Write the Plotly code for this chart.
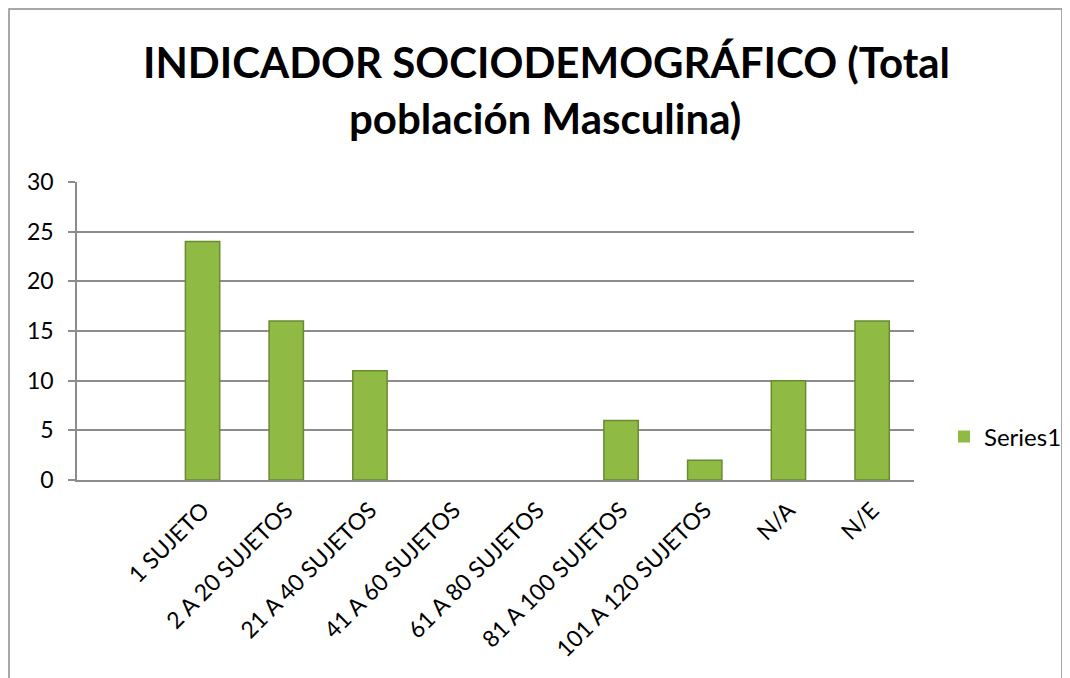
import plotly.graph_objects as go

categories = ["", "1 SUJETO", "2 A 20 SUJETOS", "21 A 40 SUJETOS", "41 A 60 SUJETOS",
              "61 A 80 SUJETOS", "81 A 100 SUJETOS", "101 A 120 SUJETOS", "N/A", "N/E"]
values = [0, 24, 16, 11, 0, 0, 6, 2, 10, 16]
series_name = "Series1"
title_lines = ["INDICADOR SOCIODEMOGRÁFICO (Total", "población Masculina)"]
y_ticks = [0, 5, 10, 15, 20, 25, 30]

# page has an 8px body margin; work in figure coordinates = page - 8
OFF = 8
W, H = 1062, 670
L, R, T, B = 77 - OFF, 1062 - (914 - OFF), 182 - OFF, 670 - (480 - OFF)
pw, ph = W - L - R, H - T - B

def px_x(x):  # page x -> paper
    return (x - OFF - L) / pw

def px_y(y):  # page y -> paper
    return (H - B - (y - OFF)) / ph

fig = go.Figure()
fig.add_trace(go.Bar(
    x=list(range(len(categories))), y=values, name=series_name,
    width=0.41,
    marker=dict(color="#8fbb45",
                line=dict(color="#6a8a30", width=[0 if v == 0 else 1.5 for v in values])),
    showlegend=True,
))

annotations = [
    dict(text=title_lines[0], x=px_x(546), y=px_y(62), xref="paper", yref="paper",
         xanchor="center", yanchor="middle", showarrow=False,
         font=dict(size=42, family="Lato, sans-serif", color="#000000", weight="bold")),
    dict(text=title_lines[1], x=px_x(545), y=px_y(118), xref="paper", yref="paper",
         xanchor="center", yanchor="middle", showarrow=False,
         font=dict(size=42, family="Lato, sans-serif", color="#000000", weight="bold")),
]

fig.update_layout(
    width=W, height=H,
    margin=dict(l=L, r=R, t=T, b=B, autoexpand=False),
    paper_bgcolor="white", plot_bgcolor="white",
    font=dict(family="Lato, sans-serif", color="#000000"),
    annotations=annotations,
    xaxis=dict(
        tickmode="array", tickvals=list(range(len(categories))), ticktext=categories,
        range=[-0.5, len(categories) - 0.5], tickangle=-45,
        showline=True, linecolor="#8c8c8c", linewidth=1.5,
        showgrid=False, ticks="", tickfont=dict(size=23, color="#000000"),
        ticklabelstandoff=6, zeroline=False,
    ),
    yaxis=dict(
        range=[0, 30], tickvals=y_ticks,
        showline=True, linecolor="#8c8c8c", linewidth=1.5,
        showgrid=True, gridcolor="#8c8c8c", gridwidth=1.5,
        ticks="outside", ticklen=7, tickcolor="#8c8c8c", tickwidth=1.5,
        tickfont=dict(size=23, color="#000000"), ticklabelstandoff=10, zeroline=False,
    ),
    legend=dict(x=px_x(944), y=px_y(437), xanchor="left", yanchor="middle",
                font=dict(size=24, color="#000000"), bgcolor="rgba(0,0,0,0)",
                itemwidth=30),
    shapes=[dict(type="rect", xref="paper", yref="paper",
                 x0=px_x(9), x1=px_x(1062), y0=px_y(720), y1=px_y(9),
                 line=dict(color="#8c8c8c", width=1.5), fillcolor="rgba(0,0,0,0)",
                 layer="below")],
)

fig.write_html("out.html")
